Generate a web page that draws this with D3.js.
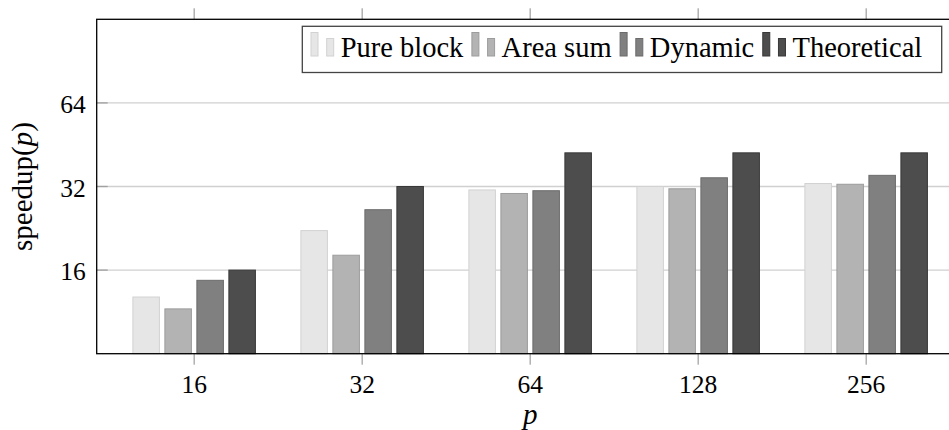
<!DOCTYPE html>
<html>
<head>
<meta charset="utf-8">
<script src="https://cdn.jsdelivr.net/npm/d3@7"></script>
<style>
  html, body { margin: 0; padding: 0; background: #fff; overflow: hidden; }
  svg { display: block; }
</style>
</head>
<body>
<svg id="chart" width="949" height="430"></svg>
<script>
// Processor counts on the x axis
const categories = ["16", "32", "64", "128", "256"];
// Series names, in legend order
const seriesNames = ["Pure block", "Area sum", "Dynamic", "Theoretical"];
// Measured speedups per series
const pureBlock   = [12.8, 22.2, 31.1, 32.0, 32.8];
const areaSum     = [11.6, 18.1, 30.2, 31.4, 32.6];
const dynamic     = [14.7, 26.4, 30.9, 34.4, 35.1];
const theoretical = [16, 32, 42.3, 42.3, 42.3];
// Y axis tick values (log base 2)
const yTicks = [16, 32, 64];

const seriesValues = [pureBlock, areaSum, dynamic, theoretical];
const fills   = ["#e6e6e6", "#b3b3b3", "#808080", "#4d4d4d"];
const strokes = ["#d2d2d2", "#9c9c9c", "#6b6b6b", "#383838"];

const FONT = "Liberation Serif";
const svg = d3.select("#chart");
const plot = { left: 96.7, right: 963.6, top: 19.3, bottom: 353.7 };

const x0 = d3.scalePoint().domain(categories)
  .range([plot.left, plot.right]).padding(0.58);
const x1 = d3.scaleBand().domain(seriesNames)
  .range([-64, 64]).paddingInner(0.14).paddingOuter(0.07);
const y = d3.scaleLog().base(2).domain([8, 128])
  .range([plot.bottom, plot.top]);

// Horizontal grid
svg.append("g")
  .selectAll("line").data(yTicks).join("line")
  .attr("x1", plot.left).attr("x2", plot.right)
  .attr("y1", d => y(d)).attr("y2", d => y(d))
  .attr("stroke", "#d0d0d0").attr("stroke-width", 1.3);

// Short y tick marks along the left edge
svg.append("g")
  .selectAll("line").data(yTicks).join("line")
  .attr("x1", plot.left).attr("x2", plot.left + 11)
  .attr("y1", d => y(d)).attr("y2", d => y(d))
  .attr("stroke", "#a0a0a0").attr("stroke-width", 1.3);

// Bars
const rows = categories.map((c, i) => ({ cat: c, vals: seriesNames.map((s, j) => ({ s, j, v: seriesValues[j][i] })) }));
svg.append("g")
  .selectAll("g").data(rows).join("g")
  .attr("transform", d => `translate(${x0(d.cat)},0)`)
  .selectAll("rect").data(d => d.vals).join("rect")
  .attr("x", d => x1(d.s) + 0.5)
  .attr("width", x1.bandwidth() - 1)
  .attr("y", d => y(d.v))
  .attr("height", d => plot.bottom - y(d.v))
  .attr("fill", d => fills[d.j])
  .attr("stroke", d => strokes[d.j])
  .attr("stroke-width", 1);

// X axis ticks (outside, bottom and top)
const xt = svg.append("g");
xt.selectAll("line.b").data(categories).join("line").attr("class", "b")
  .attr("x1", d => x0(d)).attr("x2", d => x0(d))
  .attr("y1", plot.bottom).attr("y2", plot.bottom + 11)
  .attr("stroke", "#8a8a8a").attr("stroke-width", 1);
xt.selectAll("line.t").data(categories).join("line").attr("class", "t")
  .attr("x1", d => x0(d)).attr("x2", d => x0(d))
  .attr("y1", plot.top).attr("y2", plot.top - 11)
  .attr("stroke", "#8a8a8a").attr("stroke-width", 1);

// Frame
svg.append("rect")
  .attr("x", plot.left).attr("y", plot.top)
  .attr("width", plot.right - plot.left).attr("height", plot.bottom - plot.top)
  .attr("fill", "none").attr("stroke", "#000").attr("stroke-width", 1.3);

// Tick labels
svg.append("g")
  .selectAll("text").data(categories).join("text")
  .attr("font-family", FONT)
  .attr("x", d => x0(d)).attr("y", 393.3)
  .attr("text-anchor", "middle").attr("font-size", 25.5).attr("fill", "#000")
  .text(d => d);
svg.append("g")
  .selectAll("text").data(yTicks).join("text")
  .attr("font-family", FONT)
  .attr("x", 85.7).attr("y", d => y(d) + 10)
  .attr("text-anchor", "end").attr("font-size", 25.5).attr("fill", "#000")
  .text(d => d);

// Axis labels
const yl = svg.append("text")
  .attr("font-family", FONT)
  .attr("transform", `translate(32,${(plot.top + plot.bottom) / 2}) rotate(-90)`)
  .attr("text-anchor", "middle").attr("font-size", 29).attr("fill", "#000");
yl.append("tspan").attr("font-family", FONT).text("speedup(");
yl.append("tspan").attr("font-family", FONT).attr("font-style", "italic").text("p");
yl.append("tspan").attr("font-family", FONT).text(")");

svg.append("text")
  .attr("font-family", FONT)
  .attr("x", (plot.left + plot.right) / 2).attr("y", 424)
  .attr("text-anchor", "middle").attr("font-size", 29)
  .attr("font-style", "italic").attr("fill", "#000")
  .text("p");

// Legend
const legend = { x: 302.3, y: 26.3, w: 639.4, h: 46.2 };
svg.append("rect")
  .attr("x", legend.x).attr("y", legend.y)
  .attr("width", legend.w).attr("height", legend.h)
  .attr("fill", "#fff").attr("stroke", "#444").attr("stroke-width", 1.3);

const lg = svg.append("g");
let cx = legend.x + 8.7;
const baseY = 56;
seriesNames.forEach((name, j) => {
  lg.append("rect").attr("x", cx).attr("y", 32.5).attr("width", 7).attr("height", baseY - 32.5)
    .attr("fill", fills[j]).attr("stroke", strokes[j]).attr("stroke-width", 1);
  lg.append("rect").attr("x", cx + 15.7).attr("y", 38.5).attr("width", 7).attr("height", baseY - 38.5)
    .attr("fill", fills[j]).attr("stroke", strokes[j]).attr("stroke-width", 1);
  const t = lg.append("text").attr("font-family", FONT)
    .attr("x", cx + 29.7).attr("y", 57.3)
    .attr("font-size", 28.5).attr("fill", "#000").text(name);
  cx += 29.7 + t.node().getComputedTextLength() + 8.5;
});
</script>
</body>
</html>
